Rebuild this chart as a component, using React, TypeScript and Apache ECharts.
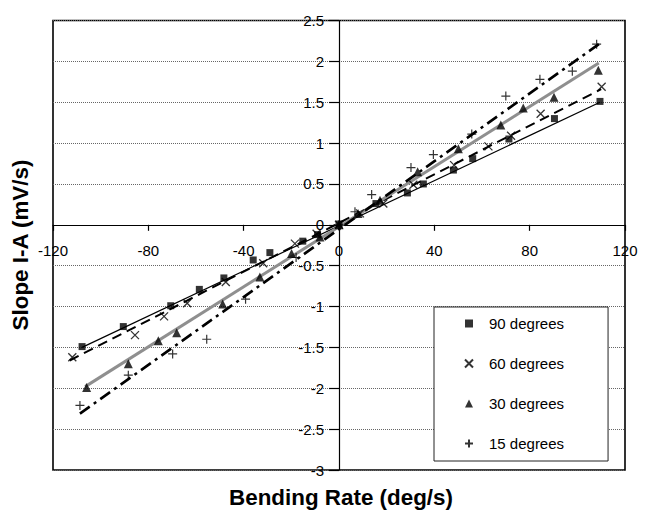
import React, { useEffect, useRef } from "react";
import * as echarts from "echarts";

const xTicks = { min: -120, max: 120, interval: 40 };
const yTicks = { min: -3, max: 2.5, interval: 0.5 };

const seriesNames = ["90 degrees", "60 degrees", "30 degrees", "15 degrees"];

const sq90X = [-107.8, -90.5, -70.6, -58.6, -48.3, -36, -29, -15.2, -9, 0, 15.5, 28.7, 35.4, 48, 56.1, 71.3, 90.4, 109.5];
const sq90Y = [-1.49, -1.245, -0.99, -0.79, -0.65, -0.43, -0.34, -0.2, -0.12, 0.01, 0.26, 0.39, 0.5, 0.67, 0.81, 1.05, 1.3, 1.51];

const x60X = [-111.9, -85.6, -73.4, -63.7, -47.5, -31.8, -18.5, -9.4, 0, 8.8, 18.6, 31.2, 48.3, 62.7, 72.2, 84.6, 110.2];
const x60Y = [-1.62, -1.35, -1.12, -0.96, -0.7, -0.47, -0.23, -0.11, 0, 0.14, 0.26, 0.49, 0.73, 0.96, 1.09, 1.36, 1.69];

const tri30X = [-105.9, -88.4, -75.8, -68.1, -48.8, -33.2, -19.9, -8, 0, 8, 17.2, 33, 50.1, 67.9, 77.3, 90.2, 108.8];
const tri30Y = [-1.99, -1.7, -1.42, -1.32, -0.97, -0.64, -0.35, -0.15, 0, 0.14, 0.3, 0.65, 0.93, 1.22, 1.43, 1.56, 1.89];

const plus15X = [-108.7, -88.4, -69.8, -55.5, -39.2, -18, 0, 6.7, 13.7, 30.2, 39.6, 55.7, 70, 84.3, 97.9, 108.1];
const plus15Y = [-2.21, -1.84, -1.58, -1.4, -0.91, -0.4, 0, 0.16, 0.37, 0.7, 0.86, 1.11, 1.575, 1.78, 1.88, 2.21];

// trendline end points
const trend90 = [[-107.8, -1.5], [109.5, 1.5]];
const trend60 = [[-113, -1.66], [110, 1.66]];
const trend30 = [[-106.5, -1.98], [109, 1.98]];
const trend15 = [[-108.7, -2.31], [109.5, 2.22]];

const FONT = "'Liberation Sans', Arial, Helvetica, sans-serif";
const X_PATH = "path://M0,0L10,10M10,0L0,10";
const PLUS_PATH = "path://M5,0L5,10M0,5L10,5";

// plot area layout (px)
const GRID = { left: 53, right: 27, top: 20.5, bottom: 42 };
const CHART_W = 652;
const CHART_H = 512;
const LABEL_SIZE = 15;

function zip(xs: number[], ys: number[]) {
  return xs.map((x, i) => [x, ys[i]]);
}

export default function App() {
  const ref = useRef<HTMLDivElement>(null);
  useEffect(() => {
    document.body.style.margin = "0";
    const chart = echarts.init(ref.current!, null, { renderer: "svg" });
    const gridW = CHART_W - GRID.left - GRID.right;
    const gridH = CHART_H - GRID.top - GRID.bottom;
    const fracX0 = (0 - xTicks.min) / (xTicks.max - xTicks.min);
    const fracY0 = (0 - yTicks.min) / (yTicks.max - yTicks.min);
    // shift the axes so that they cross at zero, carrying their labels and ticks
    const xOffset = -gridH * fracY0;
    const yOffset = -gridW * fracX0;
    const scatterBase = { type: "scatter", z: 5 };
    chart.setOption({
      animation: false,
      backgroundColor: "#fff",
      textStyle: { fontFamily: FONT },
      grid: {
        ...GRID,
        show: true,
        borderColor: "#000",
        borderWidth: 1.6,
        backgroundColor: "transparent",
      },
      xAxis: {
        type: "value",
        min: xTicks.min,
        max: xTicks.max,
        interval: xTicks.interval,
        offset: xOffset,
        axisLine: { onZero: false, lineStyle: { color: "#000", width: 1.2 } },
        axisTick: { show: true, length: 6, lineStyle: { color: "#000", width: 1.2 } },
        axisLabel: { color: "#000", fontSize: LABEL_SIZE, fontFamily: FONT, margin: 18 },
        splitLine: { show: false },
      },
      yAxis: {
        type: "value",
        min: yTicks.min,
        max: yTicks.max,
        interval: yTicks.interval,
        offset: yOffset,
        axisLine: { onZero: false, lineStyle: { color: "#000", width: 1.2 } },
        axisTick: { show: true, length: 10, lineStyle: { color: "#000", width: 1.2 } },
        axisLabel: { color: "#000", fontSize: LABEL_SIZE, fontFamily: FONT, margin: 15 },
        splitLine: { show: true, lineStyle: { color: "#666", width: 1, type: [1, 1] } },
      },
      legend: {
        orient: "vertical",
        left: 434,
        top: 307,
        data: [
          { name: seriesNames[0], icon: "rect" },
          { name: seriesNames[1], icon: X_PATH },
          { name: seriesNames[2], icon: "triangle" },
          { name: seriesNames[3], icon: PLUS_PATH },
        ],
        itemWidth: 8,
        itemHeight: 8,
        itemGap: 25,
        padding: [9, 44, 10, 30],
        backgroundColor: "#fff",
        borderColor: "#222",
        borderWidth: 1,
        formatter: (name: string) => `{t|${name}}`,
        textStyle: {
          color: "#000",
          rich: { t: { fontSize: 15, fontFamily: FONT, color: "#000", padding: [0, 0, 0, 11], lineHeight: 16 } },
        },
      },
      series: [
        {
          name: "90 fit",
          type: "line",
          data: trend90,
          symbol: "none",
          lineStyle: { color: "#000", width: 1.2 },
          z: 3,
        },
        {
          name: "60 fit",
          type: "line",
          data: trend60,
          symbol: "none",
          lineStyle: { color: "#000", width: 2, type: [10, 6] },
          z: 3,
        },
        {
          name: "30 fit",
          type: "line",
          data: trend30,
          symbol: "none",
          lineStyle: { color: "#8f8f8f", width: 3 },
          z: 3,
        },
        {
          name: "15 fit",
          type: "line",
          data: trend15,
          symbol: "none",
          lineStyle: { color: "#000", width: 2.6, type: [12, 5, 3, 5] },
          z: 3,
        },
        {
          ...scatterBase,
          name: seriesNames[0],
          data: zip(sq90X, sq90Y),
          symbol: "rect",
          symbolSize: 7,
          itemStyle: { color: "#000" },
        },
        {
          ...scatterBase,
          name: seriesNames[1],
          data: zip(x60X, x60Y),
          symbol: X_PATH,
          symbolSize: 8,
          itemStyle: { color: "#000", borderColor: "#000", borderWidth: 1.3 },
        },
        {
          ...scatterBase,
          name: seriesNames[2],
          data: zip(tri30X, tri30Y),
          symbol: "triangle",
          symbolSize: 9,
          itemStyle: { color: "#000" },
        },
        {
          ...scatterBase,
          name: seriesNames[3],
          data: zip(plus15X, plus15Y),
          symbol: PLUS_PATH,
          symbolSize: 9,
          itemStyle: { color: "#000", borderColor: "#000", borderWidth: 1.2 },
        },
      ],
      graphic: {
        elements: [
          {
            type: "text",
            x: 20,
            y: 245,
            rotation: Math.PI / 2,
            style: {
              text: "Slope I-A (mV/s)",
              fontSize: 22.4,
              fontWeight: "bold",
              fontFamily: FONT,
              fill: "#000",
              align: "center",
              verticalAlign: "middle",
            },
          },
          {
            type: "text",
            x: 341,
            y: 497,
            style: {
              text: "Bending Rate (deg/s)",
              fontSize: 22.4,
              fontWeight: "bold",
              fontFamily: FONT,
              fill: "#000",
              align: "center",
              verticalAlign: "middle",
            },
          },
        ],
      },
    });
    return () => chart.dispose();
  }, []);
  return <div ref={ref} style={{ width: CHART_W, height: CHART_H }} />;
}
